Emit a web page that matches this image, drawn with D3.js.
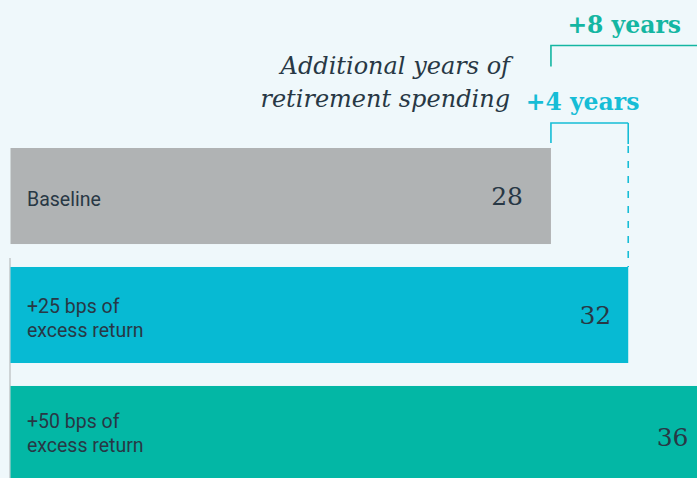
<!DOCTYPE html>
<html>
<head>
<meta charset="utf-8">
<script src="https://cdn.jsdelivr.net/npm/d3@7"></script>
<style>
  html, body { margin: 0; padding: 0; background: #eff8fb; }
  svg { display: block; }
</style>
</head>
<body>
<svg id="chart" width="697" height="478"></svg>
<script>
// data
const categories = ['Baseline', '+25 bps of\nexcess return', '+50 bps of\nexcess return'];
const years = [28, 32, 36];
const gainLabels = ['+4 years', '+8 years'];
const gainFrom = [28, 28];
const gainTo = [32, 36];
const noteLines = ['Additional years of', 'retirement spending'];

const barColors = ['#b0b3b4', '#07bad3', '#03b7a5'];
const gainColors = ['#16bdd6', '#14b6a2'];
const ink = '#283845';

const svg = d3.select('#chart');

const x = d3.scaleLinear()
  .domain([0, 36])
  .range([10, 705.5]);

const y = d3.scaleBand()
  .domain(categories)
  .range([148, 482])
  .paddingInner(0.193)
  .paddingOuter(0);

// thin axis line on the left
svg.append('line')
  .attr('x1', x(0)).attr('x2', x(0))
  .attr('y1', y(categories[1]) - 9)
  .attr('y2', 478)
  .attr('stroke', '#b8bcbe')
  .attr('stroke-width', 1.2);

// bars
svg.selectAll('rect.bar')
  .data(categories)
  .join('rect')
  .attr('class', 'bar')
  .attr('x', x(0) + 0.5)
  .attr('y', function (d) { return y(d); })
  .attr('width', function (d, i) { return x(years[i]) - x(0) - 0.5; })
  .attr('height', y.bandwidth())
  .attr('fill', function (d, i) { return barColors[i]; });

// category labels
const labelShift = [0, 0, -4];
const catText = svg.selectAll('text.cat')
  .data(categories)
  .join('text')
  .attr('class', 'cat')
  .attr('x', 27)
  .attr('font-family', 'Roboto, sans-serif')
  .attr('font-size', 19.5)
  .attr('fill', ink);

catText.each(function (d, i) {
  const lines = d.split('\n');
  const mid = y(d) + y.bandwidth() / 2 + 10 + labelShift[i];
  d3.select(this).selectAll('tspan')
    .data(lines)
    .join('tspan')
    .attr('x', 27)
    .attr('y', function (l, j) { return mid + (j - (lines.length - 1) / 2) * 24; })
    .text(function (l) { return l; });
});

// value labels
const valueInset = [28, 17, 17];
svg.selectAll('text.val')
  .data(categories)
  .join('text')
  .attr('class', 'val')
  .attr('x', function (d, i) { return x(years[i]) - valueInset[i]; })
  .attr('y', function (d, i) { return y(d) + y.bandwidth() / 2 + 9 + (i === 2 ? 3 : 0); })
  .attr('text-anchor', 'end')
  .attr('font-family', '"DejaVu Serif", serif')
  .attr('font-size', 25)
  .attr('fill', ink)
  .text(function (d, i) { return years[i]; });

// brackets showing the extra years
const bracketY = [123, 45.5];
const legDown = [20, 21];
const labelNudge = [-7, -4];
gainLabels.forEach(function (lab, i) {
  const x0 = x(gainFrom[i]);
  const x1 = Math.min(x(gainTo[i]), 697 + 10);
  const by = bracketY[i];
  const g = svg.append('g')
    .attr('stroke', gainColors[i])
    .attr('stroke-width', 1.6)
    .attr('fill', 'none');

  g.append('path')
    .attr('d', d3.line()([[x0, by + legDown[i]], [x0, by], [x1, by]]));

  if (i === 0) {
    g.append('line')
      .attr('x1', x1).attr('x2', x1)
      .attr('y1', by).attr('y2', by + 21);
    g.append('line')
      .attr('x1', x1).attr('x2', x1)
      .attr('y1', by + 23).attr('y2', y(categories[1]))
      .attr('stroke-dasharray', '7 8');
  }

  svg.append('text')
    .attr('x', (x0 + x1) / 2 + labelNudge[i])
    .attr('y', by - 13)
    .attr('text-anchor', 'middle')
    .attr('font-family', '"DejaVu Serif", serif')
    .attr('font-weight', 'bold')
    .attr('font-size', 23.5)
    .attr('fill', gainColors[i])
    .text(lab);
});

// italic note
svg.selectAll('text.note')
  .data(noteLines)
  .join('text')
  .attr('class', 'note')
  .attr('x', 510)
  .attr('y', function (d, i) { return 74 + i * 33; })
  .attr('text-anchor', 'end')
  .attr('font-family', '"DejaVu Serif", serif')
  .attr('font-style', 'italic')
  .attr('font-size', 24)
  .attr('fill', ink)
  .text(function (d) { return d; });
</script>
</body>
</html>
